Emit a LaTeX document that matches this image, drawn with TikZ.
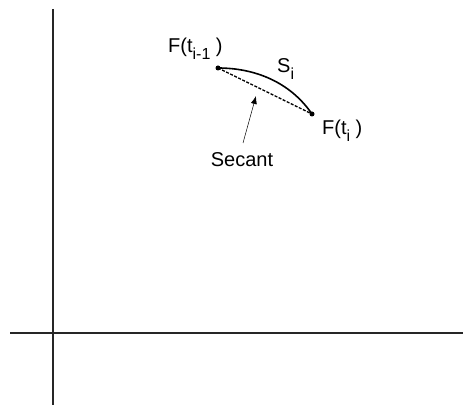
\documentclass[tikz,border=0pt]{standalone}
\usepackage{fontspec}
\setmainfont{Liberation Sans}
\usetikzlibrary{arrows.meta}

\newcommand{\lowsub}[1]{\raisebox{-7pt}{\fontsize{16}{18}\selectfont #1}}

\tikzset{
  axis/.style={line width=1.8pt, black!85},
  lbl/.style={font=\fontsize{20}{24}\selectfont, inner sep=0pt, anchor=base west},
  dot/.style={circle, fill=black, inner sep=0pt, minimum size=5pt}
}

\begin{document}
\begin{tikzpicture}[x=1pt,y=-1pt]

\useasboundingbox
(0,0)
rectangle
(464,409);

% axes
\draw[axis]
(53,9)
--
(53,405);

\draw[axis]
(10,333)
--
(463,333);

% end points of the arc
\node[dot]
(P1)
at (218,68)
{};

\node[dot]
(P2)
at (312,114)
{};

\draw[line width=1.6pt]
(P1.center)
.. controls (255,68) and (290,82) ..
(P2.center);

\draw[line width=1.3pt, dashed, dash pattern=on 3pt off 1.5pt]
(P1.center)
--
(P2.center);

% labels
\node[lbl]
(Lprev)
at (168,53)
{F(t\lowsub{i-1} )};

\node[lbl]
(Lsi)
at (277,73)
{S\lowsub{i}};

\node[lbl]
(Lcur)
at (322,135)
{F(t\lowsub{i} )};

\node[lbl, anchor=base]
(Sec)
at (242,167)
{Secant};

\coordinate
(Tail)
at (243,143);

\coordinate
(Head)
at (256,96);

\draw[-{Latex[length=8pt,width=6pt]}, line width=0.5pt]
(Tail)
--
(Head);

\end{tikzpicture}
\end{document}
